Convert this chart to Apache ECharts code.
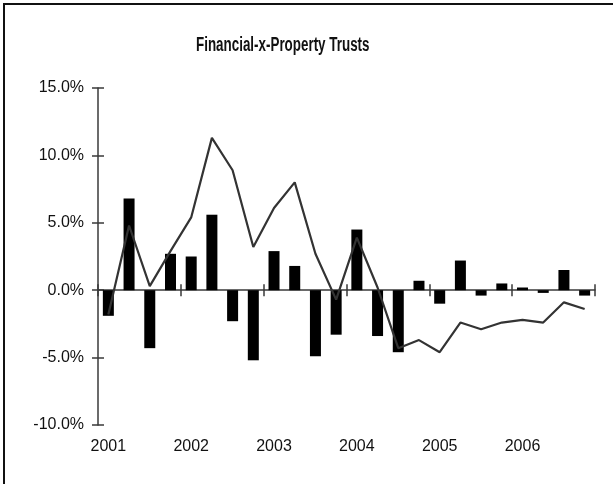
<!DOCTYPE html>
<html>
<head>
<meta charset="utf-8">
<script src="https://cdn.jsdelivr.net/npm/echarts@6/dist/echarts.min.js"></script>
<style>
  html, body { margin: 0; padding: 0; background: #fff; }
  #frame { position: absolute; left: 3px; top: 3px; width: 700px; height: 600px; border-left: 2px solid #111; border-top: 2px solid #111; }
  #chart { position: absolute; left: 0; top: 0; width: 613px; height: 484px; }
</style>
</head>
<body>
<div id="frame"></div>
<div id="chart"></div>
<script>
const titleText = 'Financial-x-Property Trusts';
const years = ['2001', '2002', '2003', '2004', '2005', '2006'];
const quarters = [];
years.forEach(y => { for (let q = 1; q <= 4; q++) quarters.push(y + ' Q' + q); });

// bar series (quarterly, %)
const barValues = [-1.9, 6.8, -4.3, 2.7, 2.5, 5.6, -2.3, -5.2, 2.9, 1.8, -4.9, -3.3,
                   4.5, -3.4, -4.6, 0.7, -1.0, 2.2, -0.4, 0.5, 0.2, -0.2, 1.5, -0.4];
// line series (quarterly, %)
const lineValues = [-1.8, 4.8, 0.3, 2.9, 5.4, 11.3, 8.9, 3.2, 6.1, 8.0, 2.7, -0.7,
                    3.9, 0.2, -4.3, -3.7, -4.6, -2.4, -2.9, -2.4, -2.2, -2.4, -0.9, -1.4];
const yTicks = [-10, -5, 0, 5, 10, 15];

const chart = echarts.init(document.getElementById('chart'));
const axisColor = '#3a3a3a';
const labelFont = { fontFamily: 'Liberation Sans', fontSize: 16, color: '#111' };

chart.setOption({
  animation: false,
  backgroundColor: 'transparent',
  graphic: [{
    type: 'text', x: 196, y: 45, scaleX: 0.67, scaleY: 1,
    style: {
      text: titleText, fill: '#111',
      font: 'bold 20px "Liberation Sans", Arial, sans-serif',
      textAlign: 'left', textVerticalAlign: 'middle'
    }
  }],
  grid: { left: 98, right: 18, top: 88, bottom: 59, containLabel: false },
  xAxis: [
    {
      type: 'category', data: quarters, position: 'bottom',
      axisLine: { onZero: true, lineStyle: { color: axisColor, width: 1.5 } },
      axisTick: { show: true, interval: 3, length: 6, inside: false, lineStyle: { color: axisColor, width: 1.5 } },
      axisLabel: { show: false }, splitLine: { show: false }
    },
    {
      type: 'category', data: quarters, position: 'bottom',
      axisLine: { show: false, onZero: true },
      axisTick: { show: true, interval: 3, length: 6, inside: true, lineStyle: { color: axisColor, width: 1.5 } },
      axisLabel: { show: false }, splitLine: { show: false }
    },
    {
      type: 'category', data: quarters, position: 'bottom',
      axisLine: { show: false, onZero: false },
      axisTick: { show: false },
      axisLabel: Object.assign({ interval: 3, margin: 14, formatter: v => v.slice(0, 4) }, labelFont),
      splitLine: { show: false }
    }
  ],
  yAxis: [
    {
      type: 'value', min: yTicks[0], max: yTicks[yTicks.length - 1], interval: 5, position: 'left',
      axisLine: { show: true, lineStyle: { color: axisColor, width: 1.5 } },
      axisTick: { show: true, length: 6, inside: false, lineStyle: { color: axisColor, width: 1.5 } },
      axisLabel: Object.assign({ margin: 14, formatter: v => v.toFixed(1) + '%' }, labelFont),
      splitLine: { show: false }
    },
    {
      type: 'value', min: yTicks[0], max: yTicks[yTicks.length - 1], interval: 5, position: 'left',
      axisLine: { show: false },
      axisTick: { show: true, length: 6, inside: true, lineStyle: { color: axisColor, width: 1.5 } },
      axisLabel: { show: false },
      splitLine: { show: false }
    }
  ],
  series: [
    {
      type: 'bar', data: barValues, xAxisIndex: 0, yAxisIndex: 0,
      barWidth: 11, itemStyle: { color: '#000' }
    },
    {
      type: 'line', data: lineValues, xAxisIndex: 0, yAxisIndex: 0,
      symbol: 'none', lineStyle: { color: '#333', width: 2.2 }
    }
  ]
});
</script>
</body>
</html>
